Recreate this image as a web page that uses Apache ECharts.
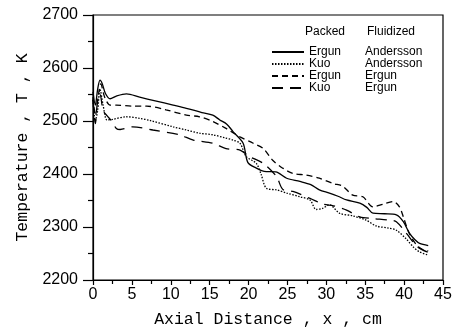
<!DOCTYPE html>
<html>
<head>
<meta charset="utf-8">
<script src="https://cdn.jsdelivr.net/npm/echarts@6/dist/echarts.min.js"></script>
<style>
  html, body { margin: 0; padding: 0; background: #fff; }
  #chart { width: 454px; height: 328px; }
</style>
</head>
<body>
<div id="chart"></div>
<script>
// Packed Ergun / Fluidized Andersson (solid)
const xErgunAnd = [0, 0.3, 0.6, 0.9, 1.2, 1.6, 2.2, 3, 4.3, 6, 8, 10.3, 12, 14, 15.4, 16.3, 17.2, 18, 19.3, 19.9, 21, 22, 23.5, 24.9, 26.6, 28, 29.1, 30.4, 31.5, 32.6, 34.3, 35.2, 36, 37.5, 39, 39.9, 40.7, 41.4, 42, 43.1];
const tErgunAnd = [2555, 2530, 2560, 2577, 2570, 2552, 2542, 2547, 2551, 2545, 2538, 2530, 2524, 2516, 2511, 2502, 2494, 2480, 2458, 2422, 2411, 2405, 2404, 2392, 2386, 2380, 2370, 2364, 2358, 2351, 2345, 2337, 2326, 2325, 2323, 2310, 2288, 2276, 2269, 2265];

// Packed Kuo / Fluidized Andersson (dotted)
const xKuoAnd = [0, 0.3, 0.6, 0.9, 1.3, 1.8, 2.5, 4.3, 6, 7.3, 10.3, 12, 13.7, 15.4, 17, 18, 18.9, 19.7, 21, 21.6, 22.3, 23.6, 24.9, 26.6, 27.9, 28.7, 29.5, 30.4, 31.7, 33.4, 35.1, 36.4, 38, 39, 40.3, 41.2, 42, 43.1];
const tKuoAnd = [2540, 2500, 2520, 2560, 2530, 2502, 2503, 2508, 2505, 2501, 2489, 2483, 2477, 2474, 2468, 2464, 2458, 2433, 2420, 2400, 2373, 2370, 2364, 2357, 2351, 2333, 2335, 2342, 2326, 2321, 2313, 2302, 2298, 2294, 2277, 2262, 2253, 2247];

// Packed Ergun / Fluidized Ergun (short dashes)
const xErgunErg = [0, 0.3, 0.7, 1, 1.5, 2.2, 3, 5.1, 6.9, 9.4, 12, 13.7, 15.4, 17.1, 18.9, 20.6, 21.9, 23.1, 24.4, 25.7, 27.4, 29.1, 30.9, 32.1, 33.4, 34.7, 36, 37.3, 38.6, 39.4, 39.9, 40.6, 41.5, 42.3, 43.1];
const tErgunErg = [2545, 2510, 2550, 2570, 2545, 2530, 2530, 2528, 2528, 2521, 2511, 2508, 2499, 2486, 2470, 2458, 2448, 2426, 2411, 2401, 2398, 2392, 2382, 2377, 2360, 2357, 2338, 2343, 2348, 2338, 2319, 2290, 2268, 2258, 2255];

// Packed Kuo / Fluidized Ergun (long dashes)
const xKuoErg = [0, 0.3, 0.6, 0.9, 1.3, 1.8, 2.4, 3, 3.5, 5.1, 7.7, 11.1, 12.9, 15.4, 17.1, 18.9, 20.1, 21.9, 23.6, 24.4, 25.7, 27.9, 29.6, 30.9, 32.6, 34.3, 36, 38.1, 39, 40.3, 41.7, 43.1];
const tKuoErg = [2540, 2495, 2540, 2550, 2520, 2510, 2500, 2486, 2484, 2489, 2483, 2474, 2464, 2458, 2448, 2445, 2433, 2420, 2395, 2371, 2367, 2354, 2343, 2340, 2332, 2319, 2316, 2313, 2310, 2288, 2263, 2252];

const packedNames = ['Ergun', 'Kuo', 'Ergun', 'Kuo'];
const fluidNames = ['Andersson', 'Andersson', 'Ergun', 'Ergun'];

function pairs(xs, ys) {
    return xs.map((x, i) => [x, ys[i]]);
}

const dashTypes = ['solid', [1.5, 1.5], [6, 4], [11, 7]];
const seriesData = [
    pairs(xErgunAnd, tErgunAnd),
    pairs(xKuoAnd, tKuoAnd),
    pairs(xErgunErg, tErgunErg),
    pairs(xKuoErg, tKuoErg)
];

// el indice al final hace unico el nombre de cada serie
const series = seriesData.map((d, i) => ({
    name: packedNames[i] + '|' + fluidNames[i] + i,
    type: 'line',
    data: d,
    symbol: 'none',
    smooth: 0.3,
    lineStyle: { color: '#000', width: 1.3, type: dashTypes[i] },
    itemStyle: { color: '#000' },
    z: 4 - i
}));

const tickFont = { fontFamily: 'Liberation Sans', fontSize: 16, color: '#000' };
const nameFont = { fontFamily: 'Liberation Mono', fontSize: 16.5, color: '#000' };

const option = {
    animation: false,
    grid: {
        left: 93, right: 11, top: 15, bottom: 48,
        outerBoundsMode: 'none',
        show: true, borderColor: '#000', borderWidth: 1.2
    },
    xAxis: {
        type: 'value',
        min: 0, max: 45, interval: 5,
        name: 'Axial Distance , x , cm',
        nameLocation: 'middle',
        nameGap: 31,
        nameTextStyle: nameFont,
        axisLine: { lineStyle: { color: '#000', width: 1.2 } },
        axisTick: { length: 5, lineStyle: { color: '#000', width: 1.2 } },
        minorTick: { show: true, splitNumber: 2, length: 4, lineStyle: { color: '#000', width: 1.2 } },
        splitLine: { show: false },
        axisLabel: Object.assign({ margin: 7 }, tickFont)
    },
    yAxis: {
        type: 'value',
        min: 2200, max: 2700, interval: 100,
        name: 'Temperature , T , K',
        nameLocation: 'middle',
        nameGap: 60,
        nameTextStyle: nameFont,
        axisLine: { lineStyle: { color: '#000', width: 1.2 } },
        axisTick: { length: 10, lineStyle: { color: '#000', width: 1.2 } },
        minorTick: { show: true, splitNumber: 2, length: 5, lineStyle: { color: '#000', width: 1.2 } },
        splitLine: { show: false },
        axisLabel: Object.assign({ margin: 15, formatter: v => String(v) }, tickFont)
    },
    legend: {
        orient: 'vertical',
        left: 266,
        top: 41,
        itemWidth: 32,
        itemHeight: 8,
        itemGap: 0,
        itemStyle: { opacity: 0 },
        textStyle: {
            fontFamily: 'Liberation Sans', fontSize: 12, color: '#000',
            rich: {
                p: { width: 56, fontFamily: 'Liberation Sans', fontSize: 12, color: '#000' },
                f: { fontFamily: 'Liberation Sans', fontSize: 12, color: '#000' }
            }
        },
        formatter: function (name) {
            const parts = name.split('|');
            return '{p|' + parts[0] + '}{f|' + parts[1].slice(0, -1) + '}';
        }
    },
    graphic: [
        { type: 'text', left: 305, top: 26, style: { text: 'Packed', font: '12px "Liberation Sans"', fill: '#000' } },
        { type: 'text', left: 367, top: 26, style: { text: 'Fluidized', font: '12px "Liberation Sans"', fill: '#000' } }
    ],
    series: series
};

const myChart = echarts.init(document.getElementById('chart'));
myChart.setOption(option);
window.addEventListener('resize', myChart.resize);
</script>
</body>
</html>
